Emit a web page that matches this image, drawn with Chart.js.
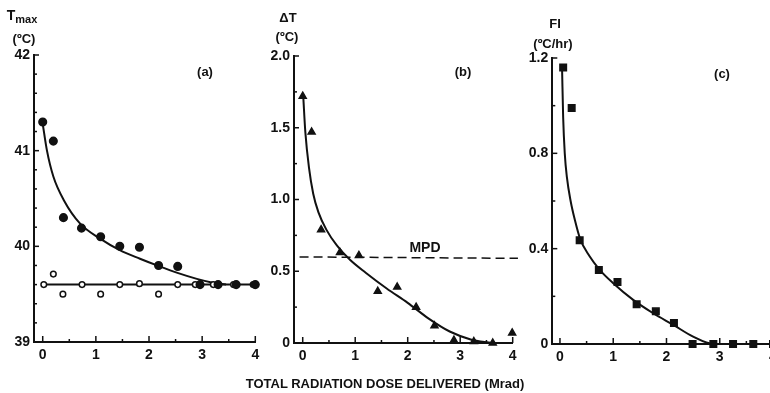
<!DOCTYPE html>
<html>
<head>
<meta charset="utf-8">
<script src="https://cdn.jsdelivr.net/npm/chart.js@4/dist/chart.umd.min.js"></script>
<style>
  body { margin: 0; background: #fff; }
  #wrap { position: relative; width: 770px; height: 393px; overflow: hidden;
          font-family: 'Liberation Sans', Arial, sans-serif; font-weight: bold; color: #111; }
  .layer { position: absolute; left: 0; top: 0; width: 770px; height: 393px; }
  .t { position: absolute; white-space: nowrap; transform: translate(-50%, -50%); font-size: 13px; }
  .t sub { font-size: 11px; vertical-align: -3px; }
</style>
</head>
<body>
<div id="wrap">
  <div class="layer"><canvas id="chartA"></canvas></div>
  <div class="layer"><canvas id="chartB"></canvas></div>
  <!-- panel (c) runs a little past the right edge, as in the original -->
  <div class="layer" style="width:785px"><canvas id="chartC"></canvas></div>

  <div class="t" style="left:22px;top:16px;font-size:14px">T<sub>max</sub></div>
  <div class="t" style="left:24px;top:38px">(ºC)</div>
  <div class="t" style="left:288px;top:17px">ΔT</div>
  <div class="t" style="left:287px;top:36px">(ºC)</div>
  <div class="t" style="left:555px;top:23px">FI</div>
  <div class="t" style="left:553px;top:43px">(ºC/hr)</div>
  <div class="t" style="left:205px;top:71px">(a)</div>
  <div class="t" style="left:463px;top:71px">(b)</div>
  <div class="t" style="left:722px;top:73px">(c)</div>
  <div class="t" style="left:425px;top:247px;font-size:14px">MPD</div>
  <div class="t" style="left:385px;top:383px">TOTAL RADIATION DOSE DELIVERED (Mrad)</div>
</div>

<script>
// x ticks shared by all three panels
const xLabels = [0, 1, 2, 3, 4];

// (a) Tmax vs dose
const doseA = [0.0, 0.2, 0.39, 0.73, 1.09, 1.45, 1.82, 2.18, 2.54, 2.96, 3.30, 3.64, 4.0];
const tmaxIrr = [41.30, 41.10, 40.30, 40.19, 40.10, 40.00, 39.99, 39.80, 39.79, 39.60, 39.60, 39.60, 39.60];
const doseA2 = [0.02, 0.2, 0.38, 0.74, 1.09, 1.45, 1.82, 2.18, 2.54, 2.87, 3.21, 3.59, 3.96];
const tmaxCtl = [39.60, 39.71, 39.50, 39.60, 39.50, 39.60, 39.61, 39.50, 39.60, 39.60, 39.60, 39.60, 39.60];
const fitAx = [0.0, 0.08, 0.2, 0.4, 0.7, 1.08, 1.45, 1.83, 2.2, 2.55, 2.9, 3.2, 3.45];
const fitAy = [41.28, 41.0, 40.73, 40.48, 40.24, 40.08, 39.96, 39.87, 39.79, 39.72, 39.66, 39.62, 39.6];
const ctlLineX = [0, 4];
const ctlLineY = [39.6, 39.6];
const yLabelsA = ['39', '40', '41', '42'];

// (b) delta T vs dose
const doseB = [0.0, 0.17, 0.35, 0.71, 1.07, 1.43, 1.80, 2.16, 2.51, 2.88, 3.26, 3.62, 3.99];
const deltaT = [1.72, 1.47, 0.79, 0.63, 0.61, 0.36, 0.39, 0.25, 0.12, 0.02, 0.01, 0.0, 0.07];
const fitBx = [0.01, 0.05, 0.12, 0.2, 0.3, 0.45, 0.65, 0.9, 1.2, 1.6, 2.0, 2.4, 2.8, 3.2, 3.6];
const fitBy = [1.72, 1.47, 1.22, 1.04, 0.91, 0.79, 0.68, 0.58, 0.49, 0.38, 0.28, 0.17, 0.08, 0.025, 0.0];
const mpdX = [-0.06, 4.1];
const mpdY = [0.60, 0.59];
const yLabelsB = ['0', '0.5', '1.0', '1.5', '2.0'];

// (c) FI vs dose
const doseC = [0.06, 0.22, 0.37, 0.73, 1.08, 1.44, 1.80, 2.14, 2.49, 2.88, 3.25, 3.63, 4.0];
const fiVals = [1.16, 0.99, 0.435, 0.31, 0.26, 0.167, 0.137, 0.088, 0.0, 0.0, 0.0, 0.0, 0.0];
const fitCx = [0.04, 0.06, 0.09, 0.13, 0.2, 0.28, 0.38, 0.55, 0.75, 1.0, 1.375, 1.75, 2.13, 2.5, 2.88, 4.1];
const fitCy = [1.15, 0.95, 0.80, 0.70, 0.60, 0.52, 0.44, 0.37, 0.31, 0.255, 0.185, 0.129, 0.08, 0.031, 0.0, 0.0];
const yLabelsC = ['0', '0.4', '0.8', '1.2'];

const ink = '#111';
Chart.defaults.font.family = "'Liberation Sans', Arial, sans-serif";
Chart.defaults.font.weight = 'bold';
Chart.defaults.color = ink;

function pts(xs, ys) {
  return xs.map((x, i) => ({ x: x, y: ys[i] }));
}

function steps(min, max, step) {
  const out = [];
  for (let v = min; v <= max + 1e-9; v += step) out.push(Math.round(v * 1000) / 1000);
  return out;
}

// inward tick marks, longer where there is a label
const inTicks = {
  id: 'inTicks',
  afterDatasetsDraw(chart) {
    const ctx = chart.ctx;
    const a = chart.chartArea;
    ctx.save();
    ctx.strokeStyle = ink;
    ctx.lineWidth = 1.5;
    const xs = chart.scales.x;
    xs.ticks.forEach(t => {
      const px = xs.getPixelForValue(t.value);
      const len = t.label !== '' ? 6 : 3;
      ctx.beginPath(); ctx.moveTo(px, a.bottom); ctx.lineTo(px, a.bottom - len); ctx.stroke();
    });
    const ys = chart.scales.y;
    ys.ticks.forEach(t => {
      const py = ys.getPixelForValue(t.value);
      const len = t.label !== '' ? 5 : 3;
      ctx.beginPath(); ctx.moveTo(a.left, py); ctx.lineTo(a.left + len, py); ctx.stroke();
    });
    ctx.restore();
  }
};

function makePanel(id, canvasW, box, xMin, xMax, yMin, yMax, yStep, yLabels, yLabelVals, datasets) {
  const xVals = steps(0, 4, 0.5);
  const yVals = steps(yMin, yMax, yStep);
  return new Chart(document.getElementById(id), {
    type: 'scatter',
    data: { datasets: datasets },
    options: {
      responsive: true,
      maintainAspectRatio: false,
      animation: false,
      events: [],
      layout: { padding: { left: box.left - 30, right: canvasW - box.right, top: box.top, bottom: 393 - box.bottom - 20 } },
      plugins: { legend: { display: false }, tooltip: { enabled: false } },
      scales: {
        x: {
          type: 'linear', min: xMin, max: xMax,
          grid: { display: false, drawTicks: false },
          border: { display: true, color: ink, width: 2 },
          afterBuildTicks: s => { s.ticks = xVals.map(v => ({ value: v })); },
          afterFit: s => { s.height = 20; s.paddingLeft = 0; s.paddingRight = 0; },
          ticks: {
            padding: 5, font: { size: 14, weight: 'bold' }, color: ink, maxRotation: 0, autoSkip: false,
            callback: v => (xLabels.indexOf(v) >= 0 ? String(v) : '')
          }
        },
        y: {
          type: 'linear', min: yMin, max: yMax,
          grid: { display: false, drawTicks: false },
          border: { display: true, color: ink, width: 2 },
          afterBuildTicks: s => { s.ticks = yVals.map(v => ({ value: v })); },
          afterFit: s => { s.width = 30; s.paddingTop = 0; s.paddingBottom = 0; },
          ticks: {
            padding: 4, font: { size: 14, weight: 'bold' }, color: ink, autoSkip: false,
            callback: v => {
              const k = yLabelVals.findIndex(l => Math.abs(l - v) < 1e-6);
              return k >= 0 ? yLabels[k] : '';
            }
          }
        }
      }
    },
    plugins: [inTicks]
  });
}

const markers = (style, r, fill) => ({
  showLine: false, pointStyle: style, pointRadius: r, pointBackgroundColor: fill,
  pointBorderColor: ink, pointBorderWidth: 1.5, clip: false
});
const curve = (w, dash) => ({
  showLine: true, pointRadius: 0, borderColor: ink, borderWidth: w, borderDash: dash || [],
  cubicInterpolationMode: 'monotone', clip: false
});

makePanel('chartA', 770, { left: 34, right: 255.3, top: 55, bottom: 342 }, -0.164, 4, 39, 42, 0.2,
  yLabelsA, [39, 40, 41, 42], [
    Object.assign({ data: pts(doseA, tmaxIrr) }, markers('circle', 3.8, ink)),
    Object.assign({ data: pts(doseA2, tmaxCtl) }, markers('circle', 2.8, '#fff')),
    Object.assign({ data: pts(fitAx, fitAy) }, curve(2)),
    Object.assign({ data: pts(ctlLineX, ctlLineY) }, curve(2))
  ]);

makePanel('chartB', 770, { left: 294, right: 512.7, top: 56, bottom: 343 }, -0.166, 4, 0, 2, 0.25,
  yLabelsB, [0, 0.5, 1, 1.5, 2], [
    Object.assign({ data: pts(doseB, deltaT) }, markers('triangle', 4, ink)),
    Object.assign({ data: pts(fitBx, fitBy) }, curve(2)),
    Object.assign({ data: pts(mpdX, mpdY) }, curve(1.5, [9, 5]))
  ]);

makePanel('chartC', 785, { left: 552.3, right: 773, top: 58, bottom: 344 }, -0.144, 4, 0, 1.2, 0.2,
  yLabelsC, [0, 0.4, 0.8, 1.2], [
    Object.assign({ data: pts(doseC, fiVals) }, markers('rect', 4.6, ink)),
    Object.assign({ data: pts(fitCx, fitCy) }, curve(2))
  ]);
</script>
</body>
</html>
